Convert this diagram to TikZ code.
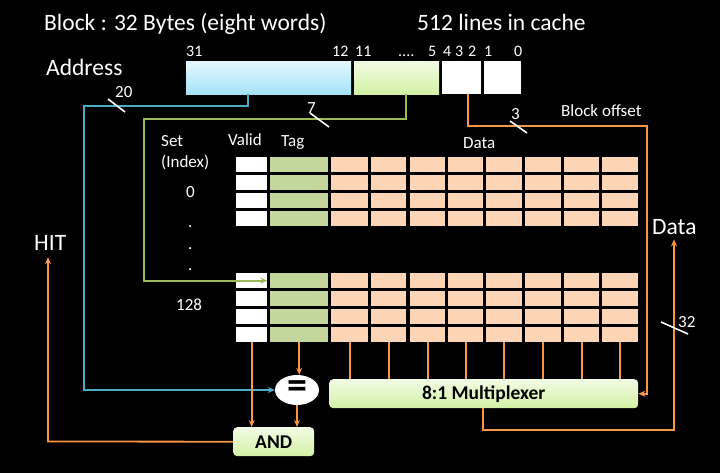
\documentclass[tikz,border=0pt]{standalone}
\usepackage{fontspec}
\setmainfont{Carlito}
\usetikzlibrary{arrows.meta,shapes.geometric}
\definecolor{og}{HTML}{F79646}
\definecolor{bl}{HTML}{4BACC6}
\definecolor{gl}{HTML}{9BBB59}
\definecolor{tagc}{HTML}{C3D69B}
\definecolor{datc}{HTML}{FBD5B5}
\definecolor{blt}{HTML}{E6F8FE}
\definecolor{blb}{HTML}{A3E2F7}
\definecolor{gnt}{HTML}{F2FBE4}
\definecolor{gnb}{HTML}{D3F1A5}
\tikzset{
  big/.style={font=\fontsize{23.5}{28}\selectfont, text=white, inner sep=0pt, anchor=base west},
  small/.style={font=\fontsize{17}{20}\selectfont, text=white, inner sep=0pt, anchor=base west},
  bits/.style={font=\fontsize{16}{19}\selectfont, text=white, inner sep=0pt, anchor=base west},
  cell/.style={draw=none, inner sep=0pt, minimum height=15pt, anchor=north west},
  wire/.style={line width=1.8pt},
  tick/.style={white, line width=1.6pt},
  arr/.style={-{Stealth[length=7pt,width=6pt]}},
  gbox/.style={rounded corners=4pt, top color=gnt, bottom color=gnb, inner sep=0pt,
    text=black, font=\bfseries\fontsize{19.5}{23}\selectfont, anchor=north west}
}
\begin{document}
\begin{tikzpicture}[x=1pt,y=-1pt]
\fill[black] (0,0) rectangle (720,473);
\useasboundingbox (0,0) rectangle (720,473);

% titles
\node[big] (title) at (44,31) {Block : 32 Bytes (eight words)};
\node[big] (lines) at (417,31) {512 lines in cache};
\node[big] (addr) at (46,76) {Address};
\node[big] (hit) at (34,250) {HIT};
\node[big] (dataout) at (652,234) {Data};

% bit numbers
\node[bits] (b31) at (186,57) {31};
\node[bits] (b12) at (332,57) {12};
\node[bits] (b11) at (355,57) {11};
\node[bits] (bdots) at (398,57) {....};
\node[bits] (b5) at (428,57) {5};
\node[bits] (b4) at (443,57) {4};
\node[bits] (b3) at (455,57) {3};
\node[bits] (b2) at (468,57) {2};
\node[bits] (b1) at (484,57) {1};
\node[bits] (b0) at (514,57) {0};

% address fields
\node[cell, minimum width=165pt, minimum height=33pt, top color=blt, bottom color=blb] (tagf) at (186,61) {};
\node[cell, minimum width=85pt, minimum height=33pt, top color=gnt, bottom color=gnb] (idxf) at (354,61) {};
\node[cell, fill=white, minimum width=39pt, minimum height=33pt] (offf) at (442,61) {};
\node[cell, fill=white, minimum width=37pt, minimum height=33pt] (bytef) at (484,61) {};

% table labels
\node[small] (lset) at (161,147) {Set};
\node[small] (lidx) at (161,168) {(Index)};
\node[small] (l0) at (186,197) {0};
\node[small] (ld1) at (188,227) {.};
\node[small] (ld2) at (188,249) {.};
\node[small] (ld3) at (188,270) {.};
\node[small] (l128) at (176,310) {128};
\node[small] (lvalid) at (228,146) {Valid};
\node[small] (ltag) at (281,147) {Tag};
\node[small] (ldata) at (463,149) {Data};
\node[small] (lboff) at (561,117) {Block offset};
\node[small] (n20) at (115,98) {20};
\node[small] (n7) at (307,114) {7};
\node[small] (n3) at (511,120) {3};
\node[small] (n32) at (678,327) {32};

% cache rows
\foreach \r/\y in {1/157,2/175,3/193,4/211,5/273,6/291,7/309,8/327} {
  \node[cell, fill=white, minimum width=31pt] (v\r) at (236,\y) {};
  \node[cell, fill=tagc, minimum width=58pt] (t\r) at (270,\y) {};
  \foreach \c/\x/\w in {1/331/37,2/371/35,3/410/35,4/448/35,5/486/36,6/525/36,7/564/35,8/602/36} {
    \node[cell, fill=datc, minimum width=\w pt] (d\r\c) at (\x,\y) {};
  }
}

% comparator, mux, and
\node[ellipse, fill=white, minimum width=44pt, minimum height=30pt, inner sep=0pt,
      font=\bfseries\fontsize{40}{44}\selectfont, text=black] (eq) at (297,390) {=};
\node[gbox, minimum width=309pt, minimum height=29pt] (mux) at (329,379) {8:1 Multiplexer};
\node[gbox, minimum width=81pt, minimum height=29pt] (and) at (233,427) {AND};

% blue tag wire
\coordinate (bw1) at (248,106);
\coordinate (bw2) at (84,106);
\draw[wire, bl, arr] (tagf.south -| bw1) -- (bw1) -- (bw2) |- (eq.west);

% green index wire
\coordinate (gw1) at (406,119);
\coordinate (gw2) at (144,119);
\draw[wire, gl, arr] (idxf.south -| gw1) -- (gw1) -- (gw2) |- (v5.east);

% orange block offset wire
\coordinate (ow1) at (468,126);
\coordinate (ow2) at (647,126);
\draw[wire, og, arr] (offf.south -| ow1) -- (ow1) -- (ow2) |- (mux.east);

% data columns into mux
\foreach \c in {1,...,8} {
  \draw[og, line width=1.8pt] (d8\c.south) -- (d8\c.south |- mux.north);
}

% valid, tag, compare
\draw[wire, og, arr] (v8.south) -- (v8.south |- and.north);
\draw[wire, og, arr] (t8.south) -- (t8.south |- eq.north);
\draw[wire, og, arr] (eq.south) -- (eq.south |- and.north);

% mux output
\coordinate (mw1) at (483,430);
\coordinate (mw2) at (674,430);
\draw[wire, og, arr] (mux.south -| mw1) -- (mw1) -- (mw2) -- ([yshift=-5pt]mw2 |- dataout.south);

% hit
\coordinate (hw1) at (48,441.5);
\draw[wire, og, arr] (and.west) -- (hw1) -- ([yshift=-7pt]hw1 |- hit.south);

% width ticks
\draw[tick] (108,99) -- (125,112);
\draw[tick] (310,113) -- (329,127);
\draw[tick] (510,121) -- (527,133);
\draw[tick] (661,322) -- (688,334);
\end{tikzpicture}
\end{document}
